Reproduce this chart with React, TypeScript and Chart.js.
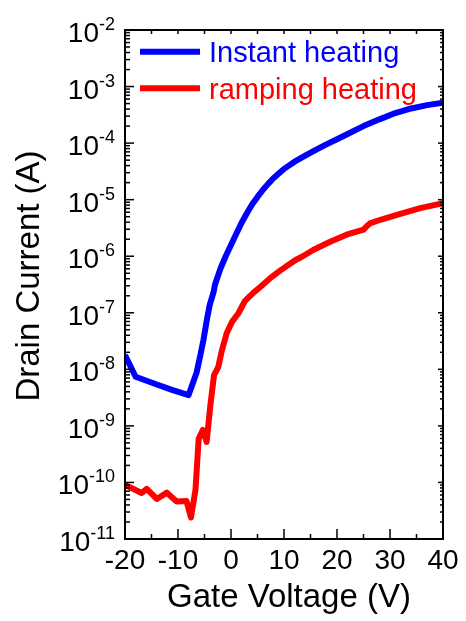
import React, { useEffect, useRef } from "react";
import { Chart, registerables } from "chart.js";

Chart.register(...registerables);

// ---- data ----
const instantV = [-20, -18, -14, -11, -8, -6.5, -5.85, -5.2, -4.5, -4, -3.3, -3, -2, -1, 0, 1, 2, 3, 4, 5, 6, 7, 8, 9, 10, 12, 14, 16, 18, 20, 22, 25, 28, 31, 34, 37, 40];
const instantI = [1.78e-8, 7.4e-9, 5.4e-9, 4.3e-9, 3.5e-9, 8.7e-9, 1.66e-8, 3.3e-8, 8.0e-8, 1.4e-7, 2.3e-7, 3.2e-7, 6.0e-7, 1.0e-6, 1.58e-6, 2.5e-6, 3.9e-6, 5.75e-6, 8.3e-6, 1.12e-5, 1.48e-5, 1.9e-5, 2.4e-5, 2.9e-5, 3.5e-5, 4.7e-5, 6.0e-5, 7.6e-5, 9.5e-5, 1.17e-4, 1.45e-4, 2.0e-4, 2.63e-4, 3.4e-4, 4.1e-4, 4.7e-4, 5.2e-4];

const rampingV = [-20, -16.85, -15.9, -14.0, -12.1, -10.25, -8.4, -7.55, -6.7, -6.1, -5.3, -4.6, -3.9, -3.2, -2.4, -1.7, -0.8, 0.2, 1.4, 2.6, 4.2, 5.8, 7.4, 9.2, 12.1, 13.3, 15.5, 18.7, 21.8, 25.0, 25.6, 26.2, 28.5, 31.3, 35.7, 40];
const rampingI = [9.0e-11, 6.5e-11, 7.7e-11, 5.1e-11, 6.6e-11, 4.6e-11, 4.7e-11, 2.4e-11, 7.4e-11, 5.9e-10, 8.5e-10, 5.2e-10, 2.3e-9, 7.9e-9, 1.1e-8, 2.2e-8, 4.4e-8, 6.9e-8, 9.8e-8, 1.6e-7, 2.25e-7, 3.0e-7, 4.1e-7, 5.5e-7, 8.5e-7, 9.7e-7, 1.29e-6, 1.8e-6, 2.4e-6, 2.95e-6, 3.4e-6, 3.8e-6, 4.5e-6, 5.4e-6, 7.1e-6, 8.7e-6];

const seriesNames = ["Instant heating", "ramping heating"];
const seriesColors = ["#0000ff", "#ff0000"];

const xTickValues = [-20, -10, 0, 10, 20, 30, 40];
const xTickLabels = ["-20", "-10", "0", "10", "20", "30", "40"];
const yTickExponents = [-2, -3, -4, -5, -6, -7, -8, -9, -10, -11];

const xTitle = "Gate Voltage (V)";
const yTitle = "Drain Current (A)";

const FONT = '"Liberation Sans", Arial, Helvetica, sans-serif';

const decorPlugin = {
  id: "decor",
  afterDatasetsDraw(chart: any) {
    const { ctx, chartArea: a, scales } = chart;
    const xs = scales.x;
    const ys = scales.y;
    ctx.save();

    const seg = (x1: number, y1: number, x2: number, y2: number) => {
      ctx.beginPath();
      ctx.moveTo(x1, y1);
      ctx.lineTo(x2, y2);
      ctx.stroke();
    };

    ctx.strokeStyle = "#000";
    ctx.lineWidth = 1.5;
    // y ticks (log)
    const expMin = Math.min(...yTickExponents);
    const expMax = Math.max(...yTickExponents);
    for (let e = expMin; e <= expMax; e++) {
      for (let m = 1; m <= 9; m++) {
        if (e === expMax && m > 1) break;
        const y = ys.getPixelForValue(m * Math.pow(10, e));
        const major = m === 1;
        seg(a.left, y, a.left + (major ? 9 : 5), y);
        seg(a.right, y, a.right - (major ? 5 : 3), y);
      }
    }
    // x ticks
    for (let v = -20; v <= 40; v += 5) {
      const x = xs.getPixelForValue(v);
      const major = v % 10 === 0;
      seg(x, a.bottom, x, a.bottom - (major ? 10 : 5));
      seg(x, a.top, x, a.top + 4);
    }

    // frame
    ctx.lineWidth = 2;
    ctx.strokeRect(a.left, a.top, a.right - a.left, a.bottom - a.top);

    // y tick labels
    ctx.fillStyle = "#000";
    ctx.textBaseline = "alphabetic";
    yTickExponents.forEach((e) => {
      const y = ys.getPixelForValue(Math.pow(10, e));
      const right = a.left - 10;
      ctx.font = `18px ${FONT}`;
      const es = String(e);
      const ew = ctx.measureText(es).width;
      ctx.textAlign = "left";
      ctx.fillText(es, right - ew, y);
      ctx.font = `28px ${FONT}`;
      ctx.textAlign = "right";
      ctx.fillText("10", right - ew, y + 12);
    });

    // x tick labels
    ctx.font = `28px ${FONT}`;
    ctx.textAlign = "center";
    xTickValues.forEach((v, i) => {
      ctx.fillText(xTickLabels[i], xs.getPixelForValue(v), a.bottom + 30);
    });

    // axis titles
    ctx.font = `33px ${FONT}`;
    ctx.textAlign = "center";
    ctx.fillText(xTitle, 289, 607);
    ctx.save();
    ctx.translate(39, 276);
    ctx.rotate(-Math.PI / 2);
    ctx.fillText(yTitle, 0, 0);
    ctx.restore();

    // legend
    const legY = [51.7, 88.3];
    ctx.lineCap = "butt";
    ctx.font = `29px ${FONT}`;
    ctx.textAlign = "left";
    seriesNames.forEach((name, i) => {
      ctx.strokeStyle = seriesColors[i];
      ctx.lineWidth = 6;
      seg(140, legY[i], 200, legY[i]);
      ctx.fillStyle = seriesColors[i];
      ctx.fillText(name, 209, legY[i] + 10.3);
    });

    ctx.restore();
  },
};

export default function App() {
  const ref = useRef<HTMLCanvasElement>(null);

  useEffect(() => {
    if (!ref.current) return;
    const chart = new Chart(ref.current, {
      type: "line",
      data: {
        datasets: [
          {
            label: seriesNames[0],
            data: instantV.map((x, i) => ({ x, y: instantI[i] })),
            borderColor: seriesColors[0],
            backgroundColor: seriesColors[0],
            borderWidth: 6,
            pointRadius: 0,
            tension: 0,
            borderJoinStyle: "round",
            clip: 0,
          },
          {
            label: seriesNames[1],
            data: rampingV.map((x, i) => ({ x, y: rampingI[i] })),
            borderColor: seriesColors[1],
            backgroundColor: seriesColors[1],
            borderWidth: 6,
            pointRadius: 0,
            tension: 0,
            borderJoinStyle: "round",
            clip: 0,
          },
        ],
      },
      options: {
        animation: false,
        responsive: false,
        layout: { padding: { left: 125, top: 30, right: 23, bottom: 82 } },
        plugins: { legend: { display: false }, tooltip: { enabled: false } },
        scales: {
          x: { type: "linear", min: -20, max: 40, display: false },
          y: { type: "logarithmic", min: 1e-11, max: 1e-2, display: false },
        },
      },
      plugins: [decorPlugin],
    } as any);
    return () => chart.destroy();
  }, []);

  return (
    <div style={{ position: "fixed", left: 0, top: 0, width: 466, height: 621, background: "#fff" }}>
      <canvas ref={ref} width={466} height={621} style={{ display: "block" }} />
    </div>
  );
}
